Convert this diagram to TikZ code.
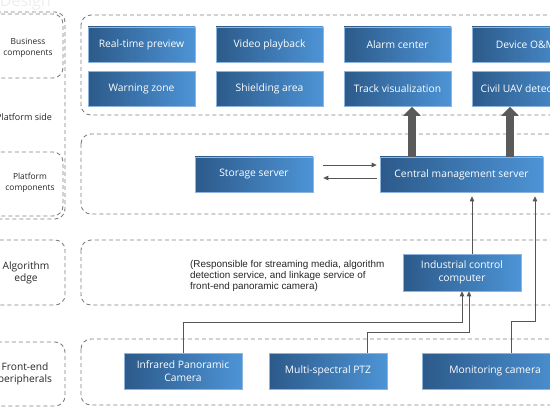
\documentclass[tikz,border=0pt]{standalone}
\usepackage{fontspec}
\setmainfont{Open Sans}
\newfontfamily\notefont{Liberation Sans}
\usetikzlibrary{arrows.meta,positioning,calc}
\definecolor{blkD}{HTML}{2C5A8A}
\definecolor{blkL}{HTML}{4D94D6}
\definecolor{blkE}{HTML}{8DB4DC}
\definecolor{dashc}{HTML}{7F7F7F}
\definecolor{bigarr}{HTML}{5A5A5A}
\definecolor{connc}{HTML}{555555}

\begin{document}
\begin{tikzpicture}[x=1pt, y=-1pt,
    every node/.style={inner sep=1pt},
    blk/.style={draw=blkE, line width=0.6pt, left color=blkD, right color=blkL,
        text=white, font=\fontsize{10.3}{12.5}\selectfont, align=center,
        minimum width=107pt, minimum height=35pt},
    grp/.style={draw=dashc, line width=0.9pt, dash pattern=on 4pt off 3pt, rounded corners=10pt},
    lbl/.style={font=\fontsize{8.4}{10.5}\selectfont, text=black!85, align=center},
    biglbl/.style={lbl, font=\fontsize{10.2}{12.5}\selectfont},
    conn/.style={draw=connc, line width=0.8pt, -{Triangle[width=4.5pt,length=5pt]}},
    fat/.style={draw=bigarr, line width=8pt, -{Triangle[width=17pt,length=9pt]}}]
    \useasboundingbox (0,0) rectangle (550,412);
    \clip (0,0) rectangle (550,412);

    % faint title
    \node[anchor=base east, font=\fontsize{16}{16}\selectfont, text=black!7] (ttl) at (52,7) {Design};

    % left side labels
    \draw[grp] (-40,12) rectangle (65,219);
    \draw[grp] (-40,14) rectangle (63,78);
    \draw[grp] (-40,152) rectangle (63,216);
    \draw[grp] (-40,240) rectangle (65,305);
    \draw[grp] (-40,342) rectangle (65,406);
    \node[lbl] (lbus) at (28,48) {Business\\components};
    \node[lbl, font=\fontsize{9}{11}\selectfont] (lps) at (24,117) {Platform side};
    \node[lbl] (lpc) at (30,183) {Platform\\components};
    \node[biglbl] (lae) at (26,273) {Algorithm\\edge};
    \node[biglbl] (lfe) at (25,374) {Front-end\\peripherals};

    % group frames
    \draw[grp] (81,15) rectangle (600,115);
    \draw[grp] (81,134) rectangle (600,214);
    \draw[grp] (81,240) rectangle (600,305);
    \draw[grp] (81,339) rectangle (600,405);

    % business components
    \node[blk] (rtp) at (141.5,44.5) {Real-time preview};
    \node[blk] (vpb) at (269.5,44.5) {Video playback};
    \node[blk] (alc) at (397.5,44.5) {Alarm center};
    \node[blk] (dom) at (525.5,44.5) {Device O\&M};
    \node[blk] (wzn) at (141.5,89) {Warning zone};
    \node[blk] (sha) at (269.5,89) {Shielding area};
    \node[blk] (trv) at (397.5,89) {Track visualization};
    \node[blk] (uav) at (525.5,89) {Civil UAV detection};

    % platform components
    \node[blk, minimum width=118pt] (sts) at (254,174.5) {Storage server};
    \node[blk, minimum width=163pt] (cms) at (461.5,174.5) {Central management server};

    % algorithm edge
    \node[anchor=north west, align=left, inner sep=0pt, text=black!85,
        font=\notefont\fontsize{9.9}{11.2}\selectfont] (note) at (190,260)
        {(Responsible for streaming media, algorithm\\detection service, and linkage service of\\front-end panoramic camera)};
    \node[blk, minimum width=118pt, minimum height=37pt] (ict) at (462,272.5) {Industrial control\\computer};

    % front-end peripherals
    \node[blk, minimum width=118pt, minimum height=36pt] (irc) at (183,371) {Infrared Panoramic\\Camera};
    \node[blk, minimum width=118pt, minimum height=36pt] (mps) at (328,371) {Multi-spectral PTZ};
    \node[blk, minimum width=146pt, minimum height=36pt] (mon) at (495,371) {Monitoring camera};

    % big arrows
    \draw[fat] (cms.north -| trv.south) ++(14.5,0) coordinate (fa1) -- (fa1 |- trv.south);
    \draw[fat] (cms.north -| uav.south) ++(-15.5,0) coordinate (fa2) -- (fa2 |- uav.south);

    % storage <-> central
    \draw[conn, shorten <=10pt, shorten >=3pt] ([yshift=9.5pt]sts.east) -- ([yshift=9.5pt]cms.west);
    \draw[conn, shorten <=3pt, shorten >=10pt] ([yshift=-3.5pt]cms.west) -- ([yshift=-3.5pt]sts.east);

    % edge -> central
    \draw[conn, shorten >=4pt] ([xshift=10pt]ict.north) -- ([xshift=10pt]ict.north |- cms.south);

    % peripherals -> edge / central
    \draw[conn] (irc.north) -- (irc.north |- 0,322) -| (ict.south);
    \draw[conn] ([xshift=39pt]mps.north) coordinate (mp1) -- (mp1 |- 0,332) -| ([xshift=7pt]ict.south);
    \draw[conn, shorten >=4pt] ([xshift=16pt]mon.north) coordinate (mo1) -- (mo1 |- 0,321) -| ([xshift=73.5pt]cms.south);
\end{tikzpicture}
\end{document}
